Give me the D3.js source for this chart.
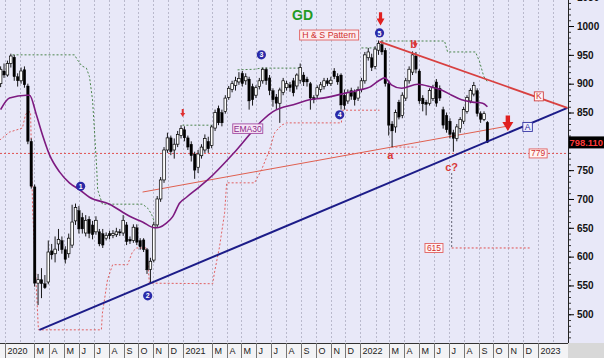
<!DOCTYPE html>
<html><head><meta charset="utf-8">
<script src="https://cdn.jsdelivr.net/npm/d3@7"></script>
<style>body{margin:0;background:#fff}svg{display:block}</style>
</head><body>
<script>
// ---------- data ----------
const weekStart = new Date(2019, 11, 23); // first weekly bar
const opens = [900,922,915,935,946,912,905,924,896,800,721,554,560,553,556,610,605,622,628,612,605,620,662,680,668,641,665,655,643,643,640,632,640,637,638,643,641,655,630,628,650,628,629,612,578,594,655,700,733,785,806,785,795,810,820,806,795,778,755,775,785,800,793,823,857,850,852,876,890,897,903,918,905,908,895,880,895,905,925,910,888,877,866,885,893,898,905,896,906,915,908,900,876,880,890,895,905,900,922,913,915,880,870,888,885,875,890,905,945,945,930,958,968,958,900,830,825,868,845,875,905,920,948,922,875,868,866,874,903,892,855,845,835,815,805,822,835,852,870,882,888,848,838,833];
const highs = [930,935,940,952,950,918,928,930,900,805,725,570,580,568,628,622,635,648,635,618,640,690,692,688,676,672,670,662,670,648,648,642,645,646,650,648,672,660,635,656,656,632,632,615,598,660,705,738,790,815,810,805,818,828,826,810,800,782,785,795,812,808,828,855,862,855,880,896,905,912,920,922,918,912,900,897,910,928,928,915,892,882,893,910,905,903,910,918,935,920,912,903,880,897,903,910,910,912,927,918,918,890,890,893,890,895,910,955,962,952,965,975,975,962,905,835,855,872,885,910,930,956,955,925,880,872,892,898,908,897,860,850,840,820,830,842,860,880,892,903,892,852,852,835];
const lows = [894,910,912,928,905,895,900,893,795,718,548,516,528,544,552,595,590,610,605,588,598,615,655,640,640,635,632,630,638,618,615,628,630,632,634,636,636,620,622,624,620,612,608,570,554,590,650,695,728,780,776,770,790,805,800,785,765,735,745,770,780,780,788,818,828,826,848,872,885,888,898,895,898,855,862,875,890,900,898,880,860,855,832,880,888,886,878,890,900,896,895,855,866,875,885,890,896,896,908,898,855,855,865,872,862,870,885,900,940,922,925,950,950,895,810,790,815,838,840,870,900,915,918,865,852,845,862,870,860,870,822,815,805,782,800,815,830,848,866,878,843,832,835,797];
const closes = [925,915,935,948,912,905,922,898,800,722,554,560,553,546,608,603,613,630,612,595,632,660,685,648,648,663,640,638,663,622,620,637,636,640,643,641,663,626,627,651,625,617,612,577,592,655,700,733,785,806,782,795,812,822,806,790,775,750,778,790,805,787,825,850,832,832,875,892,900,905,909,900,912,870,872,893,905,925,905,888,872,866,889,905,900,893,884,915,928,903,903,875,872,893,898,905,900,906,912,903,863,862,885,878,872,890,905,950,955,928,960,970,955,900,828,818,850,842,880,905,925,950,925,870,865,864,888,893,866,875,828,820,812,805,825,838,855,876,888,897,848,838,848,798.11];

// EMA30 (week index, value)
const emaWeek  = [0,2.6,7.6,8.5,10.5,12.3,14.4,17.3,20.2,23.2,26.1,32,37.9,41.7,45.2,46.7,48.7,50.5,52.6,54.6,58.4,60.8,69.3,77,79.9,86.9,90.7,94.6,101.6,105.4,108.4,111.3,112.8,114.8,117.8,122.5,126.6,129.5,132.5,135.4,138.6,141.6,143];
const emaValue = [855,875,880,880,846,811,776,747,728,716,703,691,670,660,650,651,658,669,693,703,721,733,785,837,851,865,872,875,884,889,894,906,910,898,892,899,894,889,880,872,868,866,860];

// upper (green) and lower (red) stop lines: [week index, value]
const greenStops = [
  [[3.5,950],[21.7,950],[22.6,941],[23.8,931],[25.2,927],[26.1,912],[27,872],[27.6,815],[28.2,756],[28.5,716],[29.9,691],[41.7,691],[43.2,684],[44.3,674],[45.2,660]],
  [[53.4,828],[62,828]],
  [[69.6,924],[74.5,925],[76.6,927],[87.8,927]],
  [[106,962],[110.4,962]],
  [[111.9,974],[130.4,974],[131.3,955],[139.5,955],[140.7,938],[141.9,913],[143,903]]
];
const redStops = [
  [[-0.3,802],[2.6,816],[6.4,823],[7.3,846],[7.9,851],[8.8,851],[9.4,681],[11.1,473],[29.6,473],[29.9,502],[31.4,560],[32.9,586],[37.3,586],[38.7,608],[39.9,615],[42.9,615],[43.7,554],[62.3,553],[62.8,572],[64.3,617],[65.8,676],[66.4,728],[74.6,728],[76.6,750],[79,785],[80.5,815],[82.5,828],[84,832],[100.1,832],[100.4,854],[111.3,854]],
  [[114.8,790],[122.2,790]]
];
// trend lines [week index, value]
const blueTrend  = [[11.4,473],[166.5,858]];
const redTrendK  = [[111.3,973],[166.5,858]];
const neckline   = [[41.7,712],[149.5,827]];
const level779 = 779, level615 = 615, lastPrice = 798.11;

const yTicks = [500,550,600,650,700,750,800,850,900,950,1000,1050];
const hiddenTick = 800; // covered by the last-price tag in the reference
const circles = [{n:"1",w:23.5,v:722},{n:"2",w:43.2,v:532},{n:"3",w:76.6,v:950},{n:"4",w:99.6,v:846},{n:"5",w:111.3,v:988}];
const letters = [{t:"a",w:114.5,v:776},{t:"b",w:121.3,v:969},{t:"c?",w:132.5,v:755}];

// ---------- setup ----------
const W=604,H=358,plotR=568,plotB=343;
const x = d3.scaleTime().domain([new Date(2020,0,1), new Date(2023,0,1)]).range([5,538]);
const y = d3.scaleLinear().domain([450,1050]).range([343.1,-2.8]);
const wk = i => new Date(weekStart.getTime() + i*7*864e5);
const X = i => x(wk(i));

const svg = d3.select("body").append("svg").attr("width",W).attr("height",H)
  .style("font-family","'Liberation Sans',Arial,sans-serif");
svg.append("rect").attr("width",W).attr("height",H).attr("fill","#e8e8f8");
svg.append("defs").append("clipPath").attr("id","clip").append("rect").attr("width",plotR).attr("height",plotB);

const months = d3.timeMonth.range(new Date(2020,0,1), new Date(2023,2,1));
// gridlines
svg.append("g").selectAll("line").data(months).join("line")
  .attr("x1",d=>Math.round(x(d))+0.5).attr("x2",d=>Math.round(x(d))+0.5).attr("y1",0).attr("y2",plotB)
  .attr("stroke","#acacc0").attr("stroke-width",0.8).attr("stroke-dasharray","2,2");

const g = svg.append("g").attr("clip-path","url(#clip)");
const line = d3.line().x(d=>X(d[0])).y(d=>y(d[1]));

// horizontal levels
g.append("line").attr("x1",0).attr("x2",plotR).attr("y1",y(level779)).attr("y2",y(level779))
  .attr("stroke","#e05050").attr("stroke-dasharray","2,2");
g.append("line").attr("x1",X(132.5)).attr("x2",X(155.4)).attr("y1",y(level615)).attr("y2",y(level615))
  .attr("stroke","#e05050").attr("stroke-dasharray","2,2");
g.append("line").attr("x1",X(132.5)).attr("x2",X(132.5)).attr("y1",y(745)).attr("y2",y(level615))
  .attr("stroke","#606070").attr("stroke-dasharray","2,2");

greenStops.forEach(s=>g.append("path").attr("d",line(s)).attr("fill","none")
  .attr("stroke","#3a7a3a").attr("stroke-width",0.9).attr("stroke-dasharray","2,2"));
redStops.forEach(s=>g.append("path").attr("d",line(s)).attr("fill","none")
  .attr("stroke","#e05050").attr("stroke-width",0.9).attr("stroke-dasharray","2,2"));

// neckline
g.append("path").attr("d",line(neckline)).attr("stroke","#e06050").attr("stroke-width",1).attr("fill","none");

// candles
const cw = 2.6;
opens.forEach((o,i)=>{
  const c = closes[i], cx = X(i);
  g.append("line").attr("x1",cx).attr("x2",cx).attr("y1",y(highs[i])).attr("y2",y(lows[i]))
    .attr("stroke","#000").attr("stroke-width",0.9);
  const top = y(Math.max(o,c)), bot = y(Math.min(o,c));
  const up = c>=o;
  g.append("rect").attr("x",cx-cw/2).attr("y",top).attr("width",cw).attr("height",Math.max(1,bot-top))
    .attr("fill",up?"#fff":"#000").attr("stroke","#000").attr("stroke-width",up?0.7:0.3);
});

// EMA30
g.append("path").attr("d",d3.line().curve(d3.curveMonotoneX).x((d,i)=>X(emaWeek[i])).y(d=>y(d))(emaValue))
  .attr("fill","none").attr("stroke","#7d1a80").attr("stroke-width",1.6);

// trend lines
g.append("path").attr("d",line(blueTrend)).attr("stroke","#1c1c88").attr("stroke-width",2).attr("fill","none");
g.append("path").attr("d",line(redTrendK)).attr("stroke","#d84040").attr("stroke-width",1.8).attr("fill","none");

// arrows
function arrow(cx, yTop, yBot, w, headH, color){
  const sw = w*0.4;
  const p = `M${cx-sw/2},${yTop}L${cx+sw/2},${yTop}L${cx+sw/2},${yBot-headH}L${cx+w/2},${yBot-headH}L${cx},${yBot}L${cx-w/2},${yBot-headH}L${cx-sw/2},${yBot-headH}Z`;
  svg.append("path").attr("d",p).attr("fill",color);
}
arrow(X(53.5), y(856), y(842), 5, 4, "#e03030");
arrow(X(111.6), y(1024), y(1001), 8, 7, "#e02020");
arrow(X(121.8), y(975), y(963), 5, 4, "#e03030");
arrow(X(149.0), y(845), y(818), 11, 9, "#e02020");

// circles
const cg = svg.append("g").selectAll("g").data(circles).join("g")
  .attr("transform",d=>`translate(${X(d.w)},${y(d.v)})`);
cg.append("circle").attr("r",4.6).attr("fill","#2a2aa8");
cg.append("text").text(d=>d.n).attr("text-anchor","middle").attr("dy","2.6").attr("fill","#fff")
  .attr("font-size",7).attr("font-weight","bold");

// letters
svg.append("g").selectAll("text").data(letters).join("text").text(d=>d.t)
  .attr("x",d=>X(d.w)).attr("y",d=>y(d.v)+4).attr("text-anchor","middle")
  .attr("fill","#d83a3a").attr("font-size",11).attr("font-weight","bold");

// labelled boxes
function box(cx, cy, w, h, txt, fill, stroke, color, fs){
  svg.append("rect").attr("x",cx-w/2).attr("y",cy-h/2).attr("width",w).attr("height",h)
    .attr("fill",fill).attr("stroke",stroke).attr("stroke-width",0.9);
  svg.append("text").text(txt).attr("x",cx).attr("y",cy+fs*0.36).attr("text-anchor","middle")
    .attr("fill",color).attr("font-size",fs);
}
box(X(96.5), y(984.4), 59, 10, "H & S Pattern", "#fcecef", "#e06060", "#d03030", 8.8);
box(X(72.6), y(822), 30, 9.5, "EMA30", "#f6e6f6", "#a04aa0", "#8a2a8a", 8.6);
box(X(158.1), y(878), 9, 9, "K", "#fff4f4", "#d04040", "#d03030", 8.5);
box(X(154.8), y(825), 9.5, 9, "A", "#f0f0ff", "#3030a0", "#2828a0", 8.5);
box(X(157.9), y(level779), 18, 9, "779", "#fff4f4", "#e06060", "#d03030", 8.5);
box(X(127.3), y(level615), 18, 9, "615", "#fff4f4", "#e06060", "#d03030", 8.5);

// title
svg.append("text").text("GD").attr("x",X(88.7)).attr("y",y(1010)).attr("text-anchor","middle")
  .attr("fill","#239a23").attr("font-size",14).attr("font-weight","bold");

// right axis
const ax = svg.append("g").attr("transform",`translate(${plotR},0)`);
ax.append("g").call(d3.axisRight(y).tickValues(d3.range(460,1050,10)).tickSize(3).tickFormat(""))
  .call(s=>s.select(".domain").remove()).selectAll("line").attr("stroke","#333");
ax.append("g").call(d3.axisRight(y).tickValues(yTicks).tickSize(6).tickPadding(3)
    .tickFormat(d=>d===hiddenTick?"":d3.format("d")(d)))
  .call(s=>s.select(".domain").attr("stroke","#222"))
  .call(s=>s.selectAll("text").attr("font-size",10).attr("font-weight","bold").attr("fill","#111")
    .attr("font-family","'Liberation Sans',Arial,sans-serif"));
ax.append("line").attr("x1",0.5).attr("x2",0.5).attr("y1",0).attr("y2",plotB).attr("stroke","#222");

// last price tag
svg.append("rect").attr("x",plotR+1).attr("y",y(lastPrice)-6).attr("width",W-plotR).attr("height",12).attr("fill","#000");
svg.append("text").text(d3.format(".3f")(lastPrice)).attr("x",plotR+1.5).attr("y",y(lastPrice)+3.6)
  .attr("fill","#ff3a3a").attr("font-size",9.4).attr("font-weight","bold");

// bottom time axis
svg.append("rect").attr("x",0).attr("y",plotB).attr("width",plotR).attr("height",H-plotB).attr("fill","#f3f3f5");
svg.append("rect").attr("x",plotR).attr("y",plotB).attr("width",W-plotR).attr("height",H-plotB).attr("fill","#d8d8d8");
svg.append("line").attr("x1",0).attr("x2",plotR).attr("y1",plotB+0.5).attr("y2",plotB+0.5).attr("stroke","#333");
const lm = months.filter(d=>d.getMonth()!==1);
const xa = svg.append("g").selectAll("g").data(lm).join("g").attr("transform",d=>`translate(${Math.round(x(d))+0.5},0)`);
xa.append("line").attr("y1",plotB).attr("y2",H).attr("stroke","#777");
xa.append("text").text(d=>d.getMonth()===0?d3.timeFormat("%Y")(d):d3.timeFormat("%b")(d)[0])
  .attr("x",2).attr("y",354).attr("font-size",9).attr("fill","#222");
</script>
</body></html>
